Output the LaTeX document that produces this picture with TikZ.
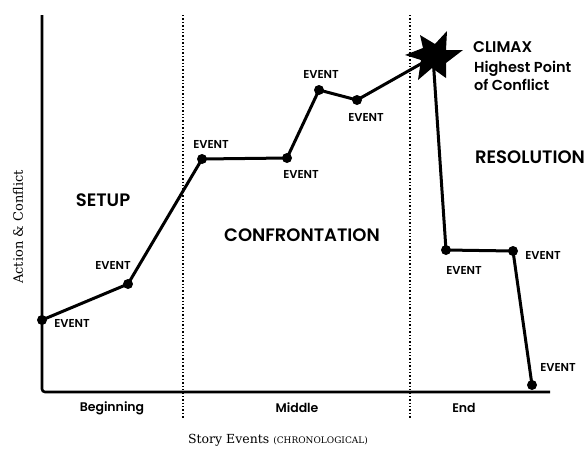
\documentclass[tikz,border=0pt]{standalone}
\usepackage{fontspec}
\setmainfont{Poppins}[BoldFont={Poppins SemiBold}]
\newfontfamily\slab{DejaVu Serif}
\begin{document}
\begin{tikzpicture}[x=1pt,y=-1pt,
  axis/.style={line width=2.6pt},
  plot/.style={line width=3pt,line join=round},
  dot/.style={circle,fill=black,inner sep=0pt,minimum size=10pt},
  divider/.style={dotted,line width=1.4pt},
  starshape/.style={fill=black,line join=round},
  evt/.style={font=\bfseries\fontsize{11.5}{12}\selectfont},
  zone/.style={font=\bfseries\fontsize{18}{20}\selectfont},
  part/.style={font=\bfseries\fontsize{12.5}{14}\selectfont}]
\path[use as bounding box] (0,0) rectangle (587,448);
% dividers
\draw[divider] (183,15) -- (183,418);
\draw[divider] (410,15) -- (410,418);
% axes
\draw[axis,rounded corners=3pt] (42,15) -- (42,392) -- (550,392);
% points
\node[dot] (p1) at (42,320) {};
\node[dot] (p2) at (128,284) {};
\node[dot] (p3) at (202,159) {};
\node[dot] (p4) at (287,158) {};
\node[dot] (p5) at (319,90) {};
\node[dot] (p6) at (357,100) {};
\coordinate (cl) at (433,57);
\node[dot] (p7) at (446,250) {};
\node[dot] (p8) at (513,251) {};
\node[dot] (p9) at (532,385) {};
\draw[plot] (p1.center) -- (p2.center) -- (p3.center) -- (p4.center) -- (p5.center) -- (p6.center) -- (cl) -- (p7.center) -- (p8.center) -- (p9.center);
% climax star
\fill[starshape,shift={(cl)}] (-13,-22) -- (2,-13) -- (14,-26) -- (13,-7) -- (30,-7) -- (13,6) -- (13,21) -- (-1,11) -- (-15,23) -- (-12,3) -- (-28,-2) -- (-10,-9) -- cycle;
% event labels
\node[evt] (e1) at (72,323) {EVENT};
\node[evt] (e2) at (113,265) {EVENT};
\node[evt] (e3) at (211,144) {EVENT};
\node[evt] (e4) at (301,174) {EVENT};
\node[evt] (e5) at (321,74) {EVENT};
\node[evt] (e6) at (366,117) {EVENT};
\node[evt] (e7) at (464,270) {EVENT};
\node[evt] (e8) at (543,255) {EVENT};
\node[evt] (e9) at (558,367) {EVENT};
% zones
\node[zone] (setup) at (103,200) {SETUP};
\node[zone] (conf) at (302,235) {CONFRONTATION};
\node[zone] (res) at (530,157) {RESOLUTION};
\node[anchor=base west,inner sep=0pt,font=\bfseries\fontsize{15.5}{17}\selectfont] (climax) at (473,52) {CLIMAX};
\node[anchor=base west,inner sep=0pt,font=\bfseries\fontsize{14.5}{18}\selectfont] (hp1) at (474,72) {Highest Point};
\node[anchor=base west,inner sep=0pt,font=\bfseries\fontsize{14.5}{18}\selectfont] (hp2) at (474,90) {of Conflict};
% parts
\node[part] (beg) at (112,408) {Beginning};
\node[part] (mid) at (297,408) {Middle};
\node[part] (end) at (464,408) {End};
% axis titles
\node[font=\slab\fontsize{12.5}{15}\selectfont] (xt) at (278,440) {Story Events {\fontsize{9}{10}\selectfont(CHRONOLOGICAL)}};
\node[font=\slab\fontsize{13}{15}\selectfont,rotate=90] (yt) at (18,227) {Action \& Conflict};
\end{tikzpicture}
\end{document}
